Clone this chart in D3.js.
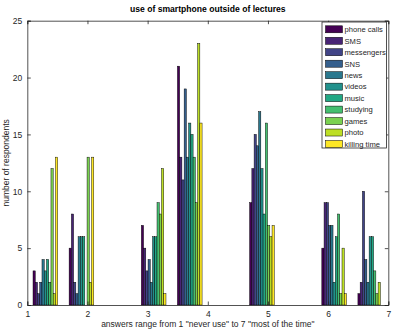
<!DOCTYPE html>
<html><head><meta charset="utf-8">
<script src="https://cdn.jsdelivr.net/npm/d3@7"></script>
<style>
html,body{margin:0;padding:0;background:#fff;}
svg{display:block;font-family:"Liberation Sans",Arial,sans-serif;}
</style></head>
<body>
<svg id="c" width="393" height="331"></svg>
<script>
const answers = [1, 2, 3, 4, 5, 6, 7];
const seriesNames = ["phone calls","SMS","messengers","SNS","news","videos","music","studying","games","photo","killing time"];
const phoneCalls  = [3, 5, 7, 21, 9, 5, 1];
const sms         = [2, 8, 5, 13, 12, 9, 2];
const messengers  = [1, 2, 3, 11, 15, 9, 10];
const sns         = [2, 1, 4, 19, 14, 7, 4];
const news        = [4, 6, 2, 13, 17, 7, 2];
const videos      = [3, 6, 6, 16, 12, 2, 6];
const music       = [4, 6, 6, 15, 8, 6, 6];
const studying    = [2, 0, 9, 13, 16, 8, 3];
const games       = [12, 13, 8, 9, 7, 1, 1];
const photo       = [1, 2, 12, 23, 6, 5, 2];
const killingTime = [13, 13, 1, 16, 7, 1, 0];
const xTicks = [1, 2, 3, 4, 5, 6, 7];
const yTicks = [0, 5, 10, 15, 20, 25];
const title = "use of smartphone outside of lectures";
const xLabel = "answers range from 1 \"never use\" to 7 \"most of the time\"";
const yLabel = "number of respondents";

const seriesValues = [phoneCalls, sms, messengers, sns, news, videos, music, studying, games, photo, killingTime];

// histogram binning as in the source (10 bins across 1..7)
const nBins = 10, lo = 1, hi = 7, binW = (hi - lo) / nBins;
function binCenter(v){
  const idx = Math.min(nBins - 1, Math.max(0, Math.ceil((v - lo) / binW - 1e-9) - 1));
  return lo + binW * (idx + 0.5);
}

const svg = d3.select("#c");
const m = {l: 27.3, r: 388.3, t: 20.7, b: 305};
const x = d3.scaleLinear().domain([1, 7]).range([m.l, m.r]);
const y = d3.scaleLinear().domain([0, 25]).range([m.b, m.t]);
const color = i => d3.interpolateViridis(i / (seriesNames.length - 1));

const groupW = 0.41;
const inner = d3.scaleBand().domain(d3.range(seriesNames.length)).range([-groupW/2, groupW/2]).padding(0);

// bars
const gBars = svg.append("g");
seriesValues.forEach((vals, s) => {
  gBars.selectAll(null).data(answers.map((a, i) => ({a, v: vals[i]})).filter(d => d.v > 0))
    .enter().append("rect")
    .attr("x", d => x(binCenter(d.a) + inner(s)))
    .attr("width", d => x(binCenter(d.a) + inner(s) + inner.bandwidth()) - x(binCenter(d.a) + inner(s)))
    .attr("y", d => y(d.v))
    .attr("height", d => y(0) - y(d.v))
    .attr("fill", color(s))
    .attr("stroke", "#000")
    .attr("stroke-width", 0.45);
});

// axes
const axCol = "#262626";
const fs = 8.5;
const tickLen = 3.5;
const xAxB = d3.axisBottom(x).tickValues(xTicks).tickSize(-tickLen).tickPadding(6).tickFormat(d3.format("d"));
const xAxT = d3.axisTop(x).tickValues(xTicks).tickSize(-tickLen).tickFormat("");
const yAxL = d3.axisLeft(y).tickValues(yTicks).tickSize(-tickLen).tickPadding(5).tickFormat(d3.format("d"));
const yAxR = d3.axisRight(y).tickValues(yTicks).tickSize(-tickLen).tickFormat("");
function styleAx(g){
  g.selectAll("path").attr("stroke", axCol).attr("stroke-width", 0.8);
  g.selectAll("line").attr("stroke", axCol).attr("stroke-width", 0.8);
  g.selectAll("text").attr("fill", axCol).style("font-size", fs + "px").style("font-family", "Liberation Sans, Arial, sans-serif");
}
svg.append("g").attr("transform", `translate(0,${m.b})`).call(xAxB).call(styleAx);
svg.append("g").attr("transform", `translate(0,${m.t})`).call(xAxT).call(styleAx);
svg.append("g").attr("transform", `translate(${m.l},0)`).call(yAxL).call(styleAx);
svg.append("g").attr("transform", `translate(${m.r},0)`).call(yAxR).call(styleAx);

// title and labels
svg.append("text").attr("x", (m.l + m.r) / 2).attr("y", 12).attr("text-anchor", "middle")
  .style("font-size", "8.6px").style("font-weight", "bold").attr("fill", "#000").text(title);
svg.append("text").attr("x", (m.l + m.r) / 2).attr("y", 327).attr("text-anchor", "middle")
  .style("font-size", fs + "px").attr("fill", axCol).text(xLabel);
svg.append("text").attr("transform", `translate(9,${(m.t + m.b) / 2}) rotate(-90)`).attr("text-anchor", "middle")
  .style("font-size", fs + "px").attr("fill", axCol).text(yLabel);

// legend
const lg = svg.append("g");
const lx = 322, ly = 22, lw = 64.5, lh = 126, rowH = 11.47;
lg.append("rect").attr("x", lx).attr("y", ly).attr("width", lw).attr("height", lh)
  .attr("fill", "#fff").attr("stroke", axCol).attr("stroke-width", 0.8);
seriesNames.forEach((name, i) => {
  const cy = ly + 7.3 + i * rowH;
  lg.append("rect").attr("x", lx + 3.5).attr("y", cy - 3.5).attr("width", 17).attr("height", 7)
    .attr("fill", color(i)).attr("stroke", "#000").attr("stroke-width", 0.5);
  lg.append("text").attr("x", lx + 22.5).attr("y", cy + 2.8).style("font-size", "7.6px")
    .attr("fill", axCol).text(name);
});
</script>
</body></html>
